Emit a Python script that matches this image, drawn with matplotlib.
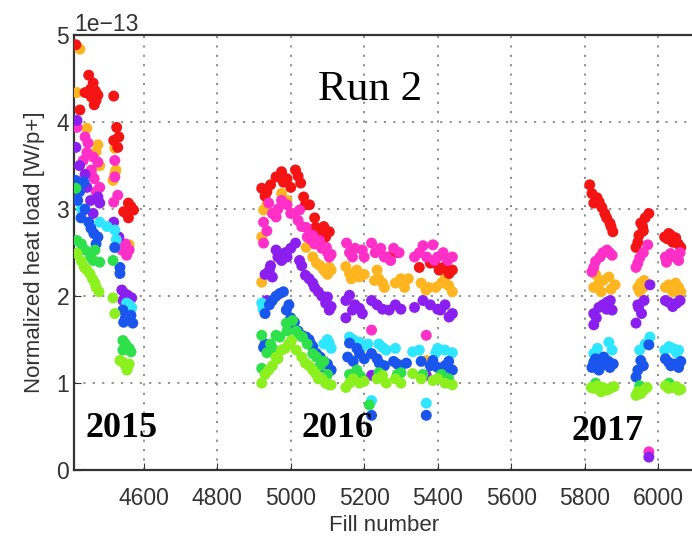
import matplotlib.pyplot as plt
import numpy as np

# values, heat load in units of 1e-13 W/p+
red_fill = [4415, 4450, 4462, 4440, 4468, 4475, 4457, 4465, 4426, 4455, 4470, 4518, 4526, 4532, 4518, 4529,
            4558, 4545, 4572, 4558, 4565,
            4921, 4935, 4960, 4975, 4980, 5013, 5027, 5035, 5051, 5065, 5068, 5057, 5105, 5090, 5078,
            4930, 4945, 4990, 5000, 5020, 5040, 5080, 5095,
            5268, 5404, 5431, 5350, 5420, 5392, 5290, 5380, 5410, 5440,
            5814, 5834, 5847, 5855, 5869, 5877, 5825, 5975, 5953, 5948, 5940, 6029, 6048, 6062, 6018, 5960, 6040,
            5820, 5840, 5860, 5872, 5945, 5958, 6025, 6055, 6035, 5965]
red_val = [4.89, 4.54, 4.45, 4.34, 4.36, 4.31, 4.29, 4.20, 4.14, 4.38, 4.25, 4.30, 3.94, 3.83, 3.79, 3.71,
           3.07, 2.97, 2.99, 2.90, 3.03,
           3.24, 3.20, 3.37, 3.43, 3.31, 3.45, 3.30, 3.14, 3.05, 2.90, 2.79, 2.74, 2.74, 2.80, 2.76,
           3.15, 3.28, 3.35, 3.25, 3.38, 3.05, 2.70, 2.68,
           2.45, 2.30, 2.26, 2.33, 2.34, 2.38, 2.50, 2.38, 2.32, 2.30,
           3.28, 3.13, 3.02, 2.95, 2.84, 2.74, 3.07, 2.95, 2.84, 2.70, 2.56, 2.72, 2.67, 2.56, 2.68, 2.75, 2.62,
           3.18, 3.08, 2.90, 2.80, 2.62, 2.80, 2.66, 2.60, 2.70, 2.90]

orange_fill = [4426, 4418, 4475, 4470, 4521, 4524, 4445, 4516, 4521, 4560, 4480,
               4921, 4926, 4975, 4921, 5042, 5070, 5105, 5095, 4935, 4990, 5080, 5090, 5100, 5110, 5060,
               5160, 5187, 5228, 5255, 5320, 5310, 5395, 5368, 5430, 5420, 5150, 5240, 5369,
               5165, 5180, 5200, 5235, 5250, 5285, 5300, 5355, 5375, 5410, 5440,
               5839, 5866, 5883, 5845, 5953, 5950, 6029, 6056, 5830, 6040, 5960,
               5850, 5872, 5825, 5945, 5962, 6020, 6048, 6062]
orange_val = [4.84, 4.34, 3.74, 3.66, 3.70, 3.45, 3.93, 3.33, 3.41, 2.59, 3.50,
              2.68, 2.99, 3.18, 2.16, 2.56, 2.38, 2.33, 2.28, 3.05, 3.10, 2.35, 2.30, 2.25, 2.30, 2.45,
              2.26, 2.22, 2.18, 2.10, 2.20, 2.10, 2.10, 2.07, 2.12, 2.20, 2.34, 2.20, 1.26,
              2.20, 2.30, 2.25, 2.30, 2.15, 2.15, 2.20, 2.15, 2.10, 2.15, 2.05,
              2.15, 2.22, 2.13, 2.05, 2.15, 2.05, 2.13, 2.10, 2.25, 2.05, 2.10,
              2.18, 2.08, 2.10, 2.10, 2.18, 2.10, 2.15, 2.05]

magenta_fill = [4418, 4440, 4448, 4435, 4462, 4475, 4457, 4521, 4521, 4457, 4518, 4529, 4540, 4553, 4560,
                4430, 4470, 4445, 4465, 4480, 4530, 4550,
                4926, 4926, 4940, 4975, 4960, 5024, 5020, 5042, 5045, 5078, 5097, 5105, 4950, 5060,
                4935, 4965, 4990, 5000, 5010, 5030, 5055, 5065, 5085, 5100, 5110,
                5152, 5168, 5195, 5220, 5255, 5272, 5337, 5391, 5427, 5387, 5220, 5369,
                5160, 5175, 5200, 5230, 5245, 5260, 5280, 5295, 5350, 5370, 5400, 5415, 5440, 5360,
                5825, 5842, 5861, 5875, 5950, 5940, 5972, 6034, 6056, 6023, 5975,
                5830, 5850, 5868, 5945, 5960, 6020, 6045, 6060, 5820]
magenta_val = [3.94, 3.83, 3.76, 3.56, 3.60, 3.54, 3.45, 3.56, 3.37, 3.41, 3.08, 3.16, 2.53, 2.47, 2.53,
               3.30, 3.20, 3.65, 3.35, 3.25, 2.65, 2.60,
               2.85, 2.61, 3.07, 3.10, 2.91, 2.99, 2.87, 2.79, 2.68, 2.64, 2.56, 2.45, 2.95, 2.70,
               2.75, 3.00, 3.05, 2.95, 2.95, 2.80, 2.65, 2.60, 2.55, 2.50, 2.48,
               2.61, 2.45, 2.53, 2.61, 2.45, 2.41, 2.45, 2.41, 2.41, 2.59, 1.61, 1.55,
               2.50, 2.55, 2.45, 2.50, 2.55, 2.45, 2.55, 2.50, 2.50, 2.45, 2.45, 2.50, 2.45, 2.58,
               2.33, 2.45, 2.53, 2.47, 2.44, 2.33, 2.59, 2.49, 2.41, 2.39, 0.21,
               2.40, 2.50, 2.50, 2.38, 2.50, 2.45, 2.45, 2.50, 2.28]

purple_fill = [4418, 4415, 4445, 4475, 4435, 4462, 4480, 4518, 4532, 4540, 4556, 4543, 4567,
               4425, 4440, 4455, 4548, 4560,
               4960, 4975, 5013, 5024, 4942, 4950, 4926, 5040, 5065, 5100, 5105,
               4930, 4945, 4965, 4985, 4990, 5000, 5030, 5050, 5060, 5075, 5085, 5095, 5110, 4935,
               5160, 5187, 5168, 5220, 5268, 5337, 5408, 5431, 5380, 5220, 5369,
               5150, 5175, 5195, 5235, 5250, 5285, 5300, 5360, 5400, 5420, 5440, 5150,
               5825, 5861, 5875, 5839, 5947, 5962, 5978, 6029, 6051, 5825, 5940, 5975,
               5850, 5870, 5832, 5955, 5945, 6020, 6040, 6060, 5860]
purple_val = [4.02, 3.71, 3.25, 3.14, 2.99, 2.95, 3.07, 2.85, 2.68, 2.07, 2.01, 1.95, 1.98,
              3.50, 3.40, 3.10, 2.03, 1.95,
              2.53, 2.41, 2.61, 2.41, 2.30, 2.22, 1.86, 2.24, 2.10, 1.99, 1.84,
              2.25, 2.35, 2.45, 2.50, 2.45, 2.55, 2.35, 2.20, 2.15, 2.05, 2.00, 1.92, 1.88, 1.95,
              2.01, 1.86, 1.84, 1.95, 1.84, 1.87, 1.84, 1.76, 1.90, 1.09, 1.09,
              1.95, 1.90, 1.80, 1.90, 1.85, 1.90, 1.85, 1.95, 1.85, 1.90, 1.80, 1.75,
              1.80, 1.93, 1.84, 1.87, 1.87, 1.95, 2.13, 1.93, 1.92, 1.67, 1.69, 0.15,
              1.90, 1.95, 1.75, 1.80, 1.90, 1.95, 1.88, 1.95, 1.85]

cyan_fill = [4480, 4521, 4521, 4553, 4567, 4430, 4500, 4525, 4560,
             4921, 5105, 4925, 5090, 5110, 5100,
             5160, 5187, 5250, 5332, 5420, 5369, 5220, 5210, 5395,
             5170, 5195, 5240, 5260, 5285, 5350, 5400, 5440,
             5866, 5978, 5950, 6018, 6056, 5825, 6040, 5835, 5875, 5965, 6030, 6050]
cyan_val = [2.85, 2.76, 2.56, 1.92, 1.87, 3.00, 2.80, 2.65, 1.90,
            1.92, 1.46, 1.85, 1.45, 1.40, 1.50,
            1.53, 1.47, 1.41, 1.36, 1.38, 0.77, 0.80, 1.45, 1.35,
            1.50, 1.42, 1.45, 1.38, 1.40, 1.38, 1.40, 1.35,
            1.47, 1.53, 1.38, 1.38, 1.38, 1.34, 1.40, 1.40, 1.38, 1.45, 1.42, 1.35]

blue_fill = [4415, 4437, 4429, 4464, 4475, 4456, 4521, 4535, 4535, 4543, 4559, 4545, 4570, 4420, 4450,
             4425, 4440, 4470, 4550, 4565,
             4970, 4942, 4988, 5005, 5042, 5070, 5078, 4926, 5000, 5055,
             4930, 4950, 4960, 4980, 4995, 5010, 5020, 5030, 5050, 5060, 5080, 5090, 5100, 5110, 4930,
             5160, 5187, 5241, 5315, 5387, 5414, 5220, 5369, 5220, 5280, 5420,
             5155, 5170, 5180, 5200, 5235, 5255, 5290, 5300, 5355, 5380, 5400, 5430, 5440,
             5825, 5852, 5869, 5839, 5940, 5953, 5975, 6029, 6056, 5858, 6045,
             5830, 5845, 5865, 5878, 5945, 5960, 6020, 6035, 6062, 5820]
blue_val = [3.33, 3.31, 2.90, 2.72, 2.68, 2.78, 2.56, 2.33, 2.26, 1.84, 1.76, 1.70, 1.69, 3.10, 2.85,
            3.20, 3.00, 2.60, 1.75, 1.78,
            2.03, 1.90, 1.84, 1.64, 1.53, 1.34, 1.18, 1.41, 1.75, 1.45,
            1.80, 1.95, 2.00, 2.05, 1.90, 1.70, 1.60, 1.55, 1.50, 1.42, 1.30, 1.25, 1.22, 1.15, 1.45,
            1.46, 1.34, 1.23, 1.23, 1.26, 1.15, 1.34, 0.63, 0.63, 1.25, 1.20,
            1.30, 1.25, 1.40, 1.28, 1.28, 1.20, 1.22, 1.20, 1.25, 1.20, 1.18, 1.25, 1.15,
            1.24, 1.30, 1.18, 1.15, 1.07, 1.26, 1.44, 1.24, 1.18, 1.25, 1.22,
            1.28, 1.20, 1.25, 1.22, 1.15, 1.20, 1.28, 1.20, 1.25, 1.18]

green_fill = [4415, 4418, 4440, 4467, 4462, 4480, 4516, 4543, 4556, 4543, 4565, 4430, 4455, 4550, 4560,
              4921, 4970, 4988, 5005, 5032, 5060, 4921, 5214, 5090, 4950,
              4935, 4945, 4960, 4990, 5015, 5025, 5045, 5070, 5080, 5100,
              5180, 5300, 5410, 5160, 5190, 5240, 5290, 5360, 5430,
              5830, 5950, 6030]
green_val = [3.24, 2.64, 2.53, 2.53, 2.41, 2.39, 2.41, 1.49, 1.41, 1.38, 1.36, 2.60, 2.45, 1.45, 1.40,
             1.55, 1.53, 1.69, 1.72, 1.53, 1.34, 1.17, 0.75, 1.25, 1.40,
             1.35, 1.45, 1.55, 1.60, 1.60, 1.55, 1.45, 1.30, 1.20, 1.10,
             1.15, 1.12, 1.10, 1.10, 1.08, 1.12, 1.10, 1.10, 1.05,
             1.00, 0.97, 1.00]

lime_fill = [4438, 4453, 4467, 4478, 4418, 4516, 4521, 4543, 4554, 4556, 4535,
             4430, 4445, 4460, 4470, 4550, 4560,
             4921, 4960, 4975, 5002, 5040, 5068, 5105, 4940, 5085,
             4930, 4950, 4965, 4985, 4995, 5015, 5030, 5050, 5060, 5075, 5095, 5110,
             5160, 5187, 5250, 5332, 5420, 5387,
             5150, 5170, 5200, 5235, 5260, 5285, 5300, 5355, 5400, 5440,
             5825, 5861, 5940, 5961, 6029, 6056, 5845, 5953, 6042,
             5835, 5850, 5870, 5880, 5945, 5970, 6020, 6050, 6062, 5818]
lime_val = [2.33, 2.26, 2.15, 2.05, 2.49, 1.98, 1.80, 1.24, 1.15, 1.18, 1.26,
            2.40, 2.30, 2.20, 2.10, 1.20, 1.22,
            1.00, 1.30, 1.38, 1.49, 1.23, 1.11, 0.98, 1.15, 1.05,
            1.10, 1.20, 1.28, 1.40, 1.45, 1.38, 1.30, 1.20, 1.15, 1.05, 1.00, 0.98,
            1.00, 1.00, 1.09, 1.11, 1.00, 1.03,
            0.95, 1.05, 1.02, 1.05, 1.00, 1.05, 1.00, 1.05, 1.05, 0.98,
            0.94, 0.92, 0.86, 0.92, 0.94, 0.92, 0.90, 0.88, 0.95,
            0.97, 0.95, 0.94, 0.96, 0.90, 0.95, 0.97, 0.96, 0.93, 0.95]

series = [
    (orange_fill, orange_val, '#ffb51f'),
    (red_fill, red_val, '#f51414'),
    (magenta_fill, magenta_val, '#ff2fc8'),
    (purple_fill, purple_val, '#8a1ff0'),
    (cyan_fill, cyan_val, '#2ee6ff'),
    (blue_fill, blue_val, '#1a55ee'),
    (green_fill, green_val, '#2ee04a'),
    (lime_fill, lime_val, '#8cef1e'),
]

plt.rcParams['font.family'] = ['Liberation Sans', 'DejaVu Sans']

fig = plt.figure(figsize=(6.92, 5.41), dpi=100)
ax = fig.add_axes([0.107, 0.131, 0.897, 0.804])

for fx, fy, col in series:
    ax.scatter(fx, np.array(fy) * 1e-13, s=62, color=col, edgecolors='none', zorder=3)

ax.set_xlim(4410, 6100)
ax.set_ylim(0, 5e-13)
ax.set_xticks(np.arange(4600, 6001, 200))
ax.set_yticks(np.arange(0, 6) * 1e-13)
ax.grid(True, color='#888888', linestyle=(0, (1.2, 4)), linewidth=1.3)
ax.tick_params(direction='in', length=5, labelsize=16.5, labelcolor='#333333', color='#333333')
ax.tick_params(axis='x', pad=12)
ax.yaxis.get_offset_text().set_fontsize(16.5)
ax.yaxis.get_offset_text().set_color('#333333')
for sp in ax.spines.values():
    sp.set_linewidth(1.6)
    sp.set_color('#333333')
ax.spines['right'].set_visible(False)

ax.set_xlabel('Fill number', fontsize=16, color='#333333', labelpad=4)
ax.set_ylabel('Normalized heat load [W/p+]', fontsize=16, color='#333333', labelpad=8)

ax.text(5215, 4.37e-13, 'Run 2', fontsize=31, family='Liberation Serif', ha='center', va='center')
ax.text(4540, 0.48e-13, '2015', fontsize=26, family='Liberation Serif', weight='bold', ha='center', va='center')
ax.text(5128, 0.48e-13, '2016', fontsize=26, family='Liberation Serif', weight='bold', ha='center', va='center')
ax.text(5862, 0.44e-13, '2017', fontsize=26, family='Liberation Serif', weight='bold', ha='center', va='center')

fig.savefig('out.png', dpi=100)
